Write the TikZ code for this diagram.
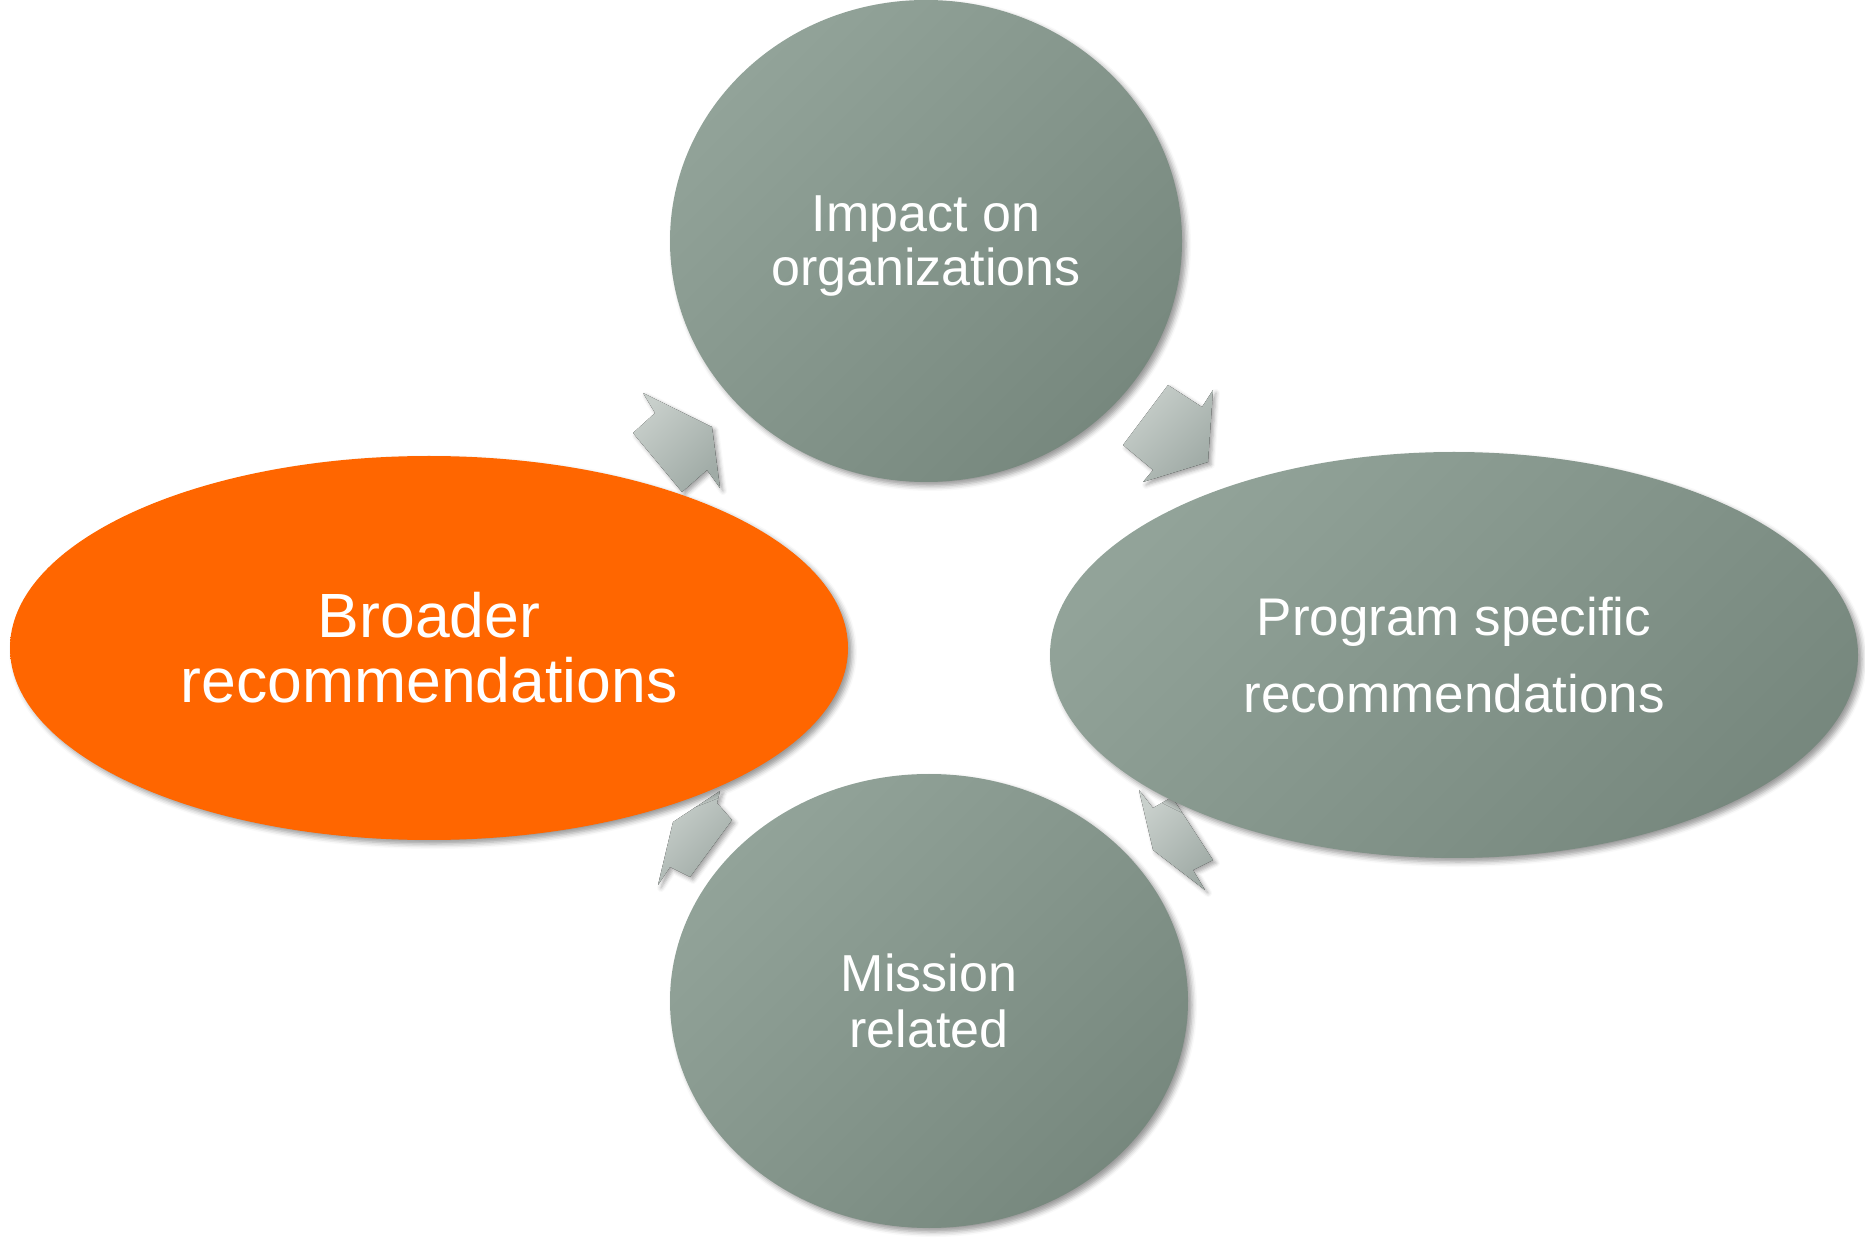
\documentclass[tikz,border=0pt]{standalone}
\usepackage{fontspec}
\setmainfont{Liberation Sans}
\usetikzlibrary{shapes.geometric,shadows.blur}

\definecolor{bubblelight}{RGB}{146,163,153}
\definecolor{bubbledark}{RGB}{119,136,126}
\definecolor{broaderorange}{RGB}{255,102,0}
\definecolor{arrowlight}{RGB}{200,207,203}
\definecolor{arrowdark}{RGB}{160,171,166}

\tikzset{
	bubble/.style={ellipse, inner sep=0pt, align=center, text=white,
		top color=bubblelight, bottom color=bubbledark, shading angle=45,
		blur shadow={shadow xshift=2pt, shadow yshift=-2pt, shadow blur radius=2.5pt, shadow opacity=40}},
	cyclearrow/.style={top color=arrowlight, bottom color=arrowdark, shading angle=45,
		blur shadow={shadow xshift=1.5pt, shadow yshift=-1.5pt, shadow blur radius=2pt, shadow opacity=35}}
}

\begin{document}
\begin{tikzpicture}[x=0.5pt,y=0.5pt,yscale=-1,xscale=1]
	%set diagram left start at 0, and has height of 1240
	\useasboundingbox (0,0) rectangle (1865,1240);
	
	%Shape: Arrow, broader to impact
	\fill [cyclearrow] (643,393) -- (655,413) -- (633,433) -- (682,492) -- (707,470) -- (720,488) -- (712,427) -- cycle ;
	%Shape: Arrow, impact to program
	\fill [cyclearrow] (1168,385) -- (1202,407) -- (1213,390) -- (1208,462) -- (1143,482) -- (1153,470) -- (1123,445) -- cycle ;
	%Shape: Arrow, program to mission
	\fill [cyclearrow] (1139,790) -- (1153,808) -- (1172,797) -- (1213,860) -- (1193,870) -- (1205,890) -- (1153,850) -- cycle ;
	%Shape: Arrow, mission to broader
	\fill [cyclearrow] (720,791) -- (717,803) -- (732,820) -- (690,877) -- (670,867) -- (658,885) -- (673,822) -- cycle ;
	
	% Ellipse Node
	\node [bubble, minimum width=256pt, minimum height=241pt, text depth=0pt, font={\fontsize{26pt}{27pt}\selectfont}] (impact) at (926,241)
		{Impact on\\ organizations};
	% Ellipse Node
	\node [bubble, minimum width=404pt, minimum height=203pt, font={\fontsize{26.5pt}{38.5pt}\selectfont}] (program) at (1454,655)
		{Program specific\\ recommendations};
	% Ellipse Node
	\node [bubble, minimum width=259pt, minimum height=227pt, font={\fontsize{26pt}{28pt}\selectfont}] (mission) at (929,1001)
		{Mission\\ related};
	% Ellipse Node
	\node [bubble, top color=broaderorange, bottom color=broaderorange, minimum width=419pt, minimum height=192pt, font={\fontsize{31.25pt}{32.5pt}\selectfont}] (broader) at (429,648)
		{Broader\\ recommendations};
	
\end{tikzpicture}
\end{document}
